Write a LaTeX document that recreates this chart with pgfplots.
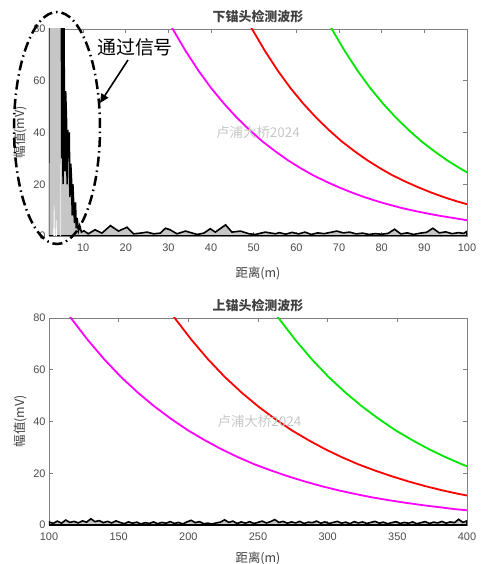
\documentclass[border=0pt]{standalone}
\usepackage{fontspec}
\setmainfont{Liberation Sans}
\newfontfamily\cjk{Noto Sans CJK SC}
\usepackage{pgfplots}
\pgfplotsset{compat=1.18}
\usetikzlibrary{arrows.meta}

\definecolor{cmag}{RGB}{255,0,255}
\definecolor{cred}{RGB}{255,0,0}
\definecolor{cgrn}{RGB}{0,230,0}

\pgfplotsset{
  matstyle/.style={
    scale only axis, width=418bp, height=207bp,
    ymin=0, ymax=80, ytick={0,20,40,60,80},
    tick align=inside, major tick length=4bp,
    axis line style={black!50, line width=0.6bp},
    tick style={black!50, line width=0.6bp},
    tick label style={font=\fontsize{11}{11}\selectfont, text=black!70},
    x tick label style={yshift=-4bp},
    /pgf/number format/assume math mode=true,
    label style={font=\cjk\fontsize{12.5}{12.5}\selectfont, text=black!75},
    xlabel style={yshift=-5bp},
    title style={font=\cjk\bfseries\fontsize{13}{13}\selectfont, text=black!75, yshift=-3bp},
    ylabel={幅值(mV)},
    xlabel={距离(m)},
    clip=true,
  }
}

\begin{document}
\begin{tikzpicture}
\useasboundingbox (-49bp,-39bp) rectangle (432bp,525bp);

% ---------- top: lower anchor ----------
\begin{axis}[matstyle, at={(0,289bp)},
  xmin=2, xmax=100, xtick={10,20,30,40,50,60,70,80,90,100},
  title={下锚头检测波形}, xlabel style={yshift=-4bp}]
  % received waveform
  \addplot[black, line width=1.6bp, fill=gray!45] coordinates {
    (1.9,0)(2.0,95)(3.0,95)(4.0,95)(4.9,95)(5.0,30)(5.15,95)(5.3,20)(5.45,95)
    (5.6,56)(5.75,25)(5.9,56)(6.1,45)(6.25,20)(6.4,41)(6.6,30)(6.75,40)(6.9,15)
    (7.1,28)(7.3,21)(7.45,8)(7.6,20)(7.8,12)(8.0,5)(8.2,13)(8.4,3)(8.6,7)(8.9,2)
    (9.2,4)(9.6,1.5)(10.2,2.0)(11.2,0.85)(12.8,2.4)(14.4,1.1)(16.4,4.0)(18.3,1.9)
    (20.3,3.4)(21.8,0.85)(23.4,1.1)(25.0,1.5)(26.5,0.85)(28.1,1.1)(29.3,3.0)
    (30.4,2.4)(32.0,0.85)(34.0,1.9)(36.7,0.6)(38.3,1.1)(39.8,2.8)(41.0,1.5)
    (43.4,4.3)(44.9,1.5)(46.9,1.9)(48.9,0.85)(50.4,0.6)(52.7,1.5)(55.1,0.85)
    (56,1.3)(57.5,0.7)(59,1.4)(60.5,0.8)(62,1.5)(63.5,0.6)(65,1.2)(66.5,0.9)
    (68,1.4)(69.5,1.9)(71,1.2)(72.5,1.5)(74,0.8)(75.5,1.1)(77,0.6)(78.5,0.9)
    (80,0.7)(81.5,1.0)(83,2.6)(84.5,0.8)(86,1.2)(87.5,0.6)(89,1.1)(90.5,1.4)
    (92,3.0)(93.5,1.2)(95,1.6)(96.5,0.9)(98,1.3)(99.2,1.0)(100,1.8)
  } \closedcycle;
  \addplot[white, line width=0.6bp] coordinates {(3.1,0)(3.2,12)(3.3,0)(3.6,0)(3.7,6)(3.8,0)};
  \addplot[gray!20, line width=0.6bp] coordinates {(4.6,0)(4.7,28)(4.8,0)};
  % threshold curves
  \addplot[cmag, line width=1.8bp] coordinates {
    (30,83.1)(31,80)(34,71.6)(37,64.0)(40,57.2)(43,51.2)(46,45.8)(49,41.0)(52,36.6)
    (55,32.8)(58,29.3)(61,26.2)(64,23.4)(67,21.0)(70,18.8)(73,16.8)(76,15.0)
    (79,13.4)(82,12.0)(85,10.7)(88,9.6)(91,8.6)(94,7.7)(97,6.9)(100,6.1)};
  \addplot[cred, line width=1.8bp] coordinates {
    (48.6,83.1)(49.6,80)(52.6,71.6)(55.6,64.0)(58.6,57.2)(61.6,51.2)(64.6,45.8)
    (67.6,41.0)(70.6,36.6)(73.6,32.8)(76.6,29.3)(79.6,26.2)(82.6,23.4)(85.6,21.0)
    (88.6,18.8)(91.6,16.8)(94.6,15.0)(97.6,13.4)(100,12.3)};
  \addplot[cgrn, line width=1.8bp] coordinates {
    (67.3,83.1)(68.3,80)(71.3,71.6)(74.3,64.0)(77.3,57.2)(80.3,51.2)(83.3,45.8)
    (86.3,41.0)(89.3,36.6)(92.3,32.8)(95.3,29.3)(98.3,26.2)(100,24.6)};
  \node[text=black!22, font=\cjk\fontsize{13.5}{13.5}\selectfont] at (axis cs:51,40) {卢浦大桥2024};
\end{axis}

% ---------- bottom: upper anchor ----------
\begin{axis}[matstyle, at={(0,0)},
  xmin=100, xmax=400, xtick={100,150,200,250,300,350,400},
  title={上锚头检测波形}]
  \addplot[black, line width=1.6bp, fill=gray!45] coordinates {
    (100,1.2)(103,0.6)(106,1.5)(109,0.7)(112,1.9)(115,1.0)(118,1.4)(121,0.8)
    (124,1.6)(127,1.1)(130,2.4)(133,1.3)(136,1.7)(139,0.9)(142,1.4)(145,0.8)
    (148,1.6)(151,1.0)(154,0.5)(157,1.2)(160,0.7)(163,1.1)(166,0.4)(169,0.9)
    (172,0.6)(175,1.2)(178,0.5)(181,1.0)(184,0.7)(187,1.3)(190,0.6)(193,1.0)
    (196,0.4)(199,1.2)(202,1.8)(205,0.9)(208,1.3)(211,0.5)(214,0.7)(217,0.4)
    (220,0.8)(223,1.1)(226,2.0)(229,1.0)(232,1.5)(235,0.6)(238,1.2)(241,0.7)
    (244,1.3)(247,0.6)(250,1.0)(253,1.5)(256,0.8)(259,1.3)(262,2.1)(265,1.0)
    (268,1.4)(271,0.7)(274,1.2)(277,0.8)(280,1.4)(283,0.6)(286,1.1)(289,0.9)
    (292,1.5)(295,0.7)(298,1.2)(301,0.6)(304,1.0)(307,1.4)(310,0.7)(313,1.1)
    (316,0.5)(319,1.3)(322,0.8)(325,1.2)(328,0.6)(331,1.0)(334,1.4)(337,0.7)
    (340,1.1)(343,0.5)(346,0.9)(349,1.3)(352,0.6)(355,1.0)(358,0.7)(361,1.2)
    (364,0.5)(367,0.9)(370,1.3)(373,0.6)(376,1.1)(379,0.8)(382,1.4)(385,0.7)
    (388,1.2)(391,0.9)(394,2.2)(397,1.0)(400,1.6)
  } \closedcycle;
  \addplot[cmag, line width=1.8bp] coordinates {
    (111.7,83.1)(115.7,80)(127.7,71.6)(139.7,64.0)(151.7,57.2)(163.7,51.2)(175.7,45.8)
    (187.7,41.0)(199.7,36.6)(211.7,32.8)(223.7,29.3)(235.7,26.2)(247.7,23.4)
    (259.7,21.0)(271.7,18.8)(283.7,16.8)(295.7,15.0)(307.7,13.4)(319.7,12.0)
    (331.7,10.7)(343.7,9.6)(355.7,8.6)(367.7,7.7)(379.7,6.9)(391.7,6.1)(400,5.7)};
  \addplot[cred, line width=1.8bp] coordinates {
    (186.2,83.1)(190.2,80)(202.2,71.6)(214.2,64.0)(226.2,57.2)(238.2,51.2)(250.2,45.8)
    (262.2,41.0)(274.2,36.6)(286.2,32.8)(298.2,29.3)(310.2,26.2)(322.2,23.4)
    (334.2,21.0)(346.2,18.8)(358.2,16.8)(370.2,15.0)(382.2,13.4)(394.2,12.0)(400,11.4)};
  \addplot[cgrn, line width=1.8bp] coordinates {
    (260.7,83.1)(264.7,80)(276.7,71.6)(288.7,64.0)(300.7,57.2)(312.7,51.2)(324.7,45.8)
    (336.7,41.0)(348.7,36.6)(360.7,32.8)(372.7,29.3)(384.7,26.2)(396.7,23.4)(400,22.7)};
  \node[text=black!22, font=\cjk\fontsize{13.5}{13.5}\selectfont] at (axis cs:251,40) {卢浦大桥2024};
\end{axis}

% annotation on the top panel
\draw[black, line width=2.5bp, dash pattern=on 10bp off 4bp on 1.5bp off 4bp]
  (8bp,397bp) ellipse [x radius=43bp, y radius=116bp];
\draw[black, line width=1.6bp, -{Triangle[length=9bp,width=8bp]}] (79bp,465bp) -- (51bp,422bp);
\node[font=\cjk\fontsize{19}{19}\selectfont] at (86bp,478bp) {通过信号};
\end{tikzpicture}
\end{document}
